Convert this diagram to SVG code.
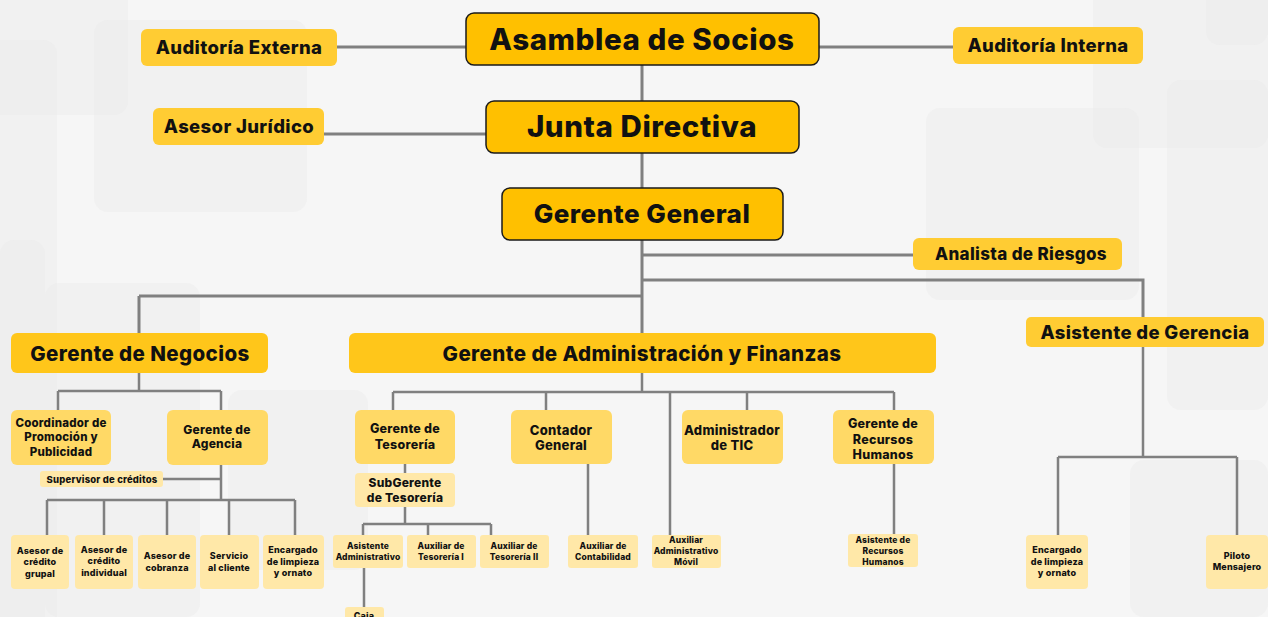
<svg xmlns="http://www.w3.org/2000/svg" width="1268" height="617" viewBox="0 0 1268 617">
<style>
text{font-family:Inter,"Liberation Sans",sans-serif;font-weight:800;fill:#111;text-anchor:middle;letter-spacing:.02em}
.l{stroke:#808080;stroke-width:3;fill:none}
.m{stroke:#808080;stroke-width:2.5;fill:none}
.top{fill:#ffc000;stroke:#1a1a1a;stroke-width:1.5}
.side{fill:#ffcc33}
.l2{fill:#ffc61a}
.l3{fill:#ffd966}
.l4{fill:#ffe8a8}
.bg{fill:#e9e9e9;opacity:.35}
</style>
<rect width="1268" height="617" fill="#f6f6f6"/>
<g id="background">
<rect class="bg" x="-20" y="-20" width="148" height="135" rx="14"/>
<rect class="bg" x="-20" y="40" width="77" height="600" rx="14"/>
<rect class="bg" x="94" y="20" width="213" height="192" rx="14"/>
<rect class="bg" x="0" y="240" width="45" height="400" rx="14"/>
<rect class="bg" x="45" y="283" width="155" height="334" rx="14"/>
<rect class="bg" x="228" y="390" width="140" height="180" rx="14"/>
<rect class="bg" x="1093" y="-20" width="175" height="168" rx="14"/>
<rect class="bg" x="1206" y="-20" width="62" height="65" rx="14"/>
<rect class="bg" x="1167" y="80" width="101" height="330" rx="14"/>
<rect class="bg" x="926" y="108" width="213" height="192" rx="14"/>
<rect class="bg" x="1130" y="460" width="138" height="157" rx="14"/>
</g>
<g id="connectors">
<path class="l" d="M337 47H466M819 47H953M642 65V101M324 134H486M642 153V188M642 240V333M642 255H913M642 280H1143V317M139 296H642M139 296V333"/>
<path class="m" d="M139 373V391M58 391H221M58 391V410M221 391V410M221 465V500M163 479H221M47 500H295M47 500V535M104 500V535M167 500V535M229 500V535M295 500V535"/>
<path class="m" d="M642 373V392M393 392H894M393 392V410M546 392V410M670 392V535M747 392V410M894 392V410M405 464V473M405 507V524M363 524H491M363 524V535M428 524V535M491 524V535M364 568V607M588 464V535M894 464V534"/>
<path class="m" d="M1143 347V457M1058 457H1237M1058 457V535M1237 457V535"/>
</g>
<g id="n-asamblea"><rect class="top" x="466" y="13" width="353" height="52" rx="8"/><text x="642" y="50" font-size="29.5">Asamblea de Socios</text></g>
<g id="n-aud-ext"><rect class="side" x="141" y="29" width="196" height="37" rx="6"/><text x="239" y="54" font-size="18.5">Auditoría Externa</text></g>
<g id="n-aud-int"><rect class="side" x="953" y="27" width="190" height="37" rx="6"/><text x="1048" y="52" font-size="18.5">Auditoría Interna</text></g>
<g id="n-junta"><rect class="top" x="486" y="101" width="313" height="52" rx="8"/><text x="642" y="137" font-size="29.5">Junta Directiva</text></g>
<g id="n-asesor-jur"><rect class="side" x="153" y="108" width="171" height="37" rx="6"/><text x="239" y="133" font-size="18.5">Asesor Jurídico</text></g>
<g id="n-gerente-general"><rect class="top" x="502" y="188" width="281" height="52" rx="8"/><text x="642" y="223" font-size="26">Gerente General</text></g>
<g id="n-analista"><rect class="side" x="913" y="238" width="209" height="32" rx="6"/><text x="1021" y="260" font-size="17">Analista de Riesgos</text></g>
<g id="n-asist-gerencia"><rect class="side" x="1026" y="317" width="238" height="30" rx="5"/><text x="1145" y="339" font-size="18.5">Asistente de Gerencia</text></g>
<g id="n-negocios"><rect class="l2" x="11" y="333" width="257" height="40" rx="6"/><text x="140" y="361" font-size="20.5">Gerente de Negocios</text></g>
<g id="n-admin-fin"><rect class="l2" x="349" y="333" width="587" height="40" rx="6"/><text x="642" y="361" font-size="20.5">Gerente de Administración y Finanzas</text></g>
<g id="n-coord"><rect class="l3" x="11" y="410" width="100" height="55" rx="6"/><text x="61" y="427" font-size="11.5">Coordinador de</text><text x="61" y="441" font-size="11.5">Promoción y</text><text x="61" y="456" font-size="11.5">Publicidad</text></g>
<g id="n-agencia"><rect class="l3" x="167" y="410" width="101" height="55" rx="6"/><text x="217" y="434" font-size="12">Gerente de</text><text x="217" y="448" font-size="12">Agencia</text></g>
<g id="n-supervisor"><rect class="l4" x="40" y="471" width="123" height="16" rx="3"/><text x="102" y="482.5" font-size="9.5">Supervisor de créditos</text></g>
<g id="n-acg"><rect class="l4" x="11" y="535" width="58" height="54" rx="4"/><text x="40" y="554" font-size="9">Asesor de</text><text x="40" y="565" font-size="9">crédito</text><text x="40" y="577" font-size="9">grupal</text></g>
<g id="n-aci"><rect class="l4" x="75" y="535" width="58" height="54" rx="4"/><text x="104" y="553" font-size="9">Asesor de</text><text x="104" y="564" font-size="9">crédito</text><text x="104" y="576" font-size="9">individual</text></g>
<g id="n-acob"><rect class="l4" x="138" y="535" width="58" height="54" rx="4"/><text x="167" y="559" font-size="9">Asesor de</text><text x="167" y="571" font-size="9">cobranza</text></g>
<g id="n-servicio"><rect class="l4" x="200" y="535" width="59" height="54" rx="4"/><text x="229" y="559" font-size="9">Servicio</text><text x="229" y="571" font-size="9">al cliente</text></g>
<g id="n-limpieza1"><rect class="l4" x="263" y="535" width="61" height="54" rx="4"/><text x="293" y="553" font-size="9">Encargado</text><text x="293" y="565" font-size="9">de limpieza</text><text x="293" y="576" font-size="9">y ornato</text></g>
<g id="n-tesoreria"><rect class="l3" x="355" y="410" width="100" height="54" rx="6"/><text x="405" y="433" font-size="12.5">Gerente de</text><text x="405" y="449" font-size="12.5">Tesorería</text></g>
<g id="n-subtesoreria"><rect class="l4" x="355" y="473" width="100" height="34" rx="4"/><text x="405" y="487" font-size="12">SubGerente</text><text x="405" y="502" font-size="12">de Tesorería</text></g>
<g id="n-asist-admin"><rect class="l4" x="333" y="535" width="70" height="33" rx="3"/><text x="368" y="549" font-size="8.5">Asistente</text><text x="368" y="560" font-size="8.5" letter-spacing="0">Administrativo</text></g>
<g id="n-aux-tes1"><rect class="l4" x="407" y="535" width="69" height="33" rx="3"/><text x="441" y="549" font-size="8.5">Auxiliar de</text><text x="441" y="560" font-size="8.5">Tesorería I</text></g>
<g id="n-aux-tes2"><rect class="l4" x="480" y="535" width="69" height="33" rx="3"/><text x="514" y="549" font-size="8.5">Auxiliar de</text><text x="514" y="560" font-size="8.5">Tesorería II</text></g>
<g id="n-caja"><rect class="l4" x="345" y="607" width="39" height="20" rx="3"/><text x="364" y="619" font-size="9">Caja</text></g>
<g id="n-contador"><rect class="l3" x="511" y="410" width="101" height="54" rx="6"/><text x="561" y="435" font-size="13">Contador</text><text x="561" y="450" font-size="13">General</text></g>
<g id="n-aux-cont"><rect class="l4" x="568" y="535" width="70" height="33" rx="3"/><text x="603" y="549" font-size="8.5">Auxiliar de</text><text x="603" y="560" font-size="8.5">Contabilidad</text></g>
<g id="n-aux-movil"><rect class="l4" x="652" y="535" width="69" height="33" rx="3"/><text x="686" y="543" font-size="8.5">Auxiliar</text><text x="686" y="554" font-size="8.5" letter-spacing="0">Administrativo</text><text x="686" y="565" font-size="8.5">Móvil</text></g>
<g id="n-tic"><rect class="l3" x="682" y="410" width="101" height="54" rx="6"/><text x="732" y="435" font-size="13" letter-spacing="0">Administrador</text><text x="732" y="450" font-size="13">de TIC</text></g>
<g id="n-rrhh"><rect class="l3" x="833" y="410" width="101" height="54" rx="6"/><text x="883" y="428" font-size="12.5">Gerente de</text><text x="883" y="444" font-size="12.5">Recursos</text><text x="883" y="459" font-size="12.5">Humanos</text></g>
<g id="n-asist-rrhh"><rect class="l4" x="848" y="534" width="70" height="33" rx="3"/><text x="883" y="543" font-size="8.5">Asistente de</text><text x="883" y="554" font-size="8.5">Recursos</text><text x="883" y="565" font-size="8.5">Humanos</text></g>
<g id="n-limpieza2"><rect class="l4" x="1026" y="535" width="62" height="54" rx="4"/><text x="1057" y="553" font-size="9">Encargado</text><text x="1057" y="565" font-size="9">de limpieza</text><text x="1057" y="576" font-size="9">y ornato</text></g>
<g id="n-piloto"><rect class="l4" x="1206" y="535" width="62" height="54" rx="4"/><text x="1237" y="559" font-size="9">Piloto</text><text x="1237" y="570" font-size="9">Mensajero</text></g>
</svg>
